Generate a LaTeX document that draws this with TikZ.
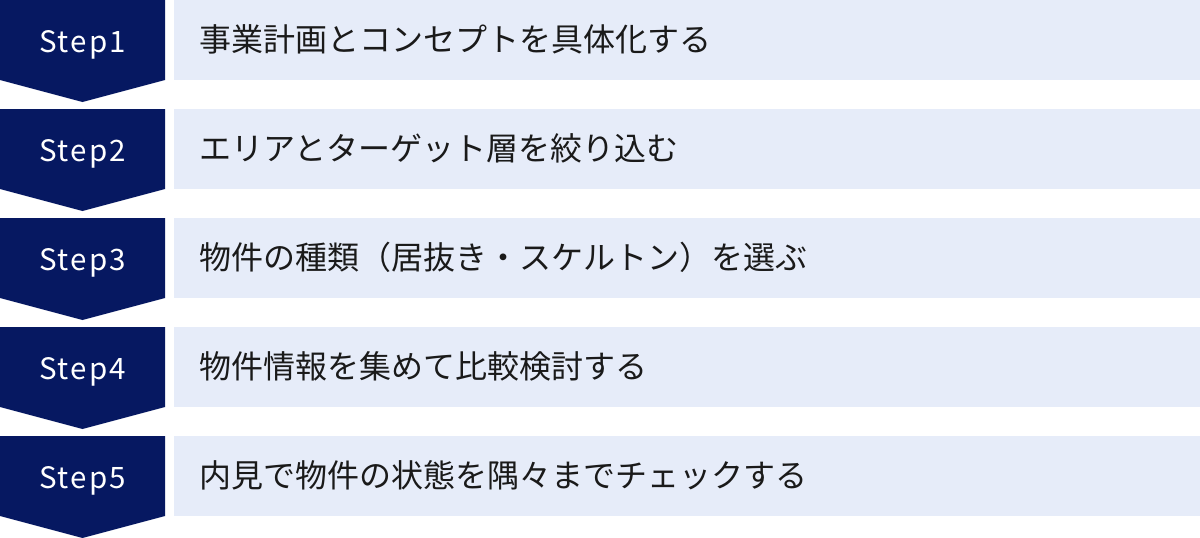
\documentclass[tikz,border=0pt]{standalone}
\usepackage{fontspec}
\newfontfamily\jpfont{Noto Sans CJK JP}
\newfontfamily\stepfont[LetterSpace=7]{Noto Sans CJK JP}
\definecolor{navy}{HTML}{061861}
\definecolor{barbg}{HTML}{E6ECF9}
\definecolor{txt}{HTML}{1A1A1A}
\tikzset{
  stepshape/.style={fill=navy},
  barshape/.style={fill=barbg},
  steplabel/.style={anchor=base, inner sep=0pt, text=white, font=\stepfont\fontsize{29.5}{34}\selectfont},
  barlabel/.style={anchor=base west, inner sep=0pt, text=txt, font=\jpfont\fontsize{32}{36}\selectfont}
}
\begin{document}
\begin{tikzpicture}[x=1pt,y=-1pt]
\useasboundingbox (0,0) rectangle (1200,538);
\fill[white] (0,0) rectangle (1200,538);
\foreach \i/\t in {1/事業計画とコンセプトを具体化する,2/エリアとターゲット層を絞り込む,3/物件の種類（居抜き・スケルトン）を選ぶ,4/物件情報を集めて比較検討する,5/内見で物件の状態を隅々までチェックする}{
  \pgfmathsetmacro{\top}{(\i-1)*109}
  \fill[stepshape] (0,\top) -- (165,\top) -- (165,\top+80) -- (82.5,\top+102) -- (0,\top+80) -- cycle;
  \fill[barshape] (174,\top) rectangle (1200,\top+80);
  \node[steplabel] (s\i) at (82.5,\top+52) {Step\i};
  \node[barlabel] (t\i) at (199,\top+51) {\t};
}
\end{tikzpicture}
\end{document}
